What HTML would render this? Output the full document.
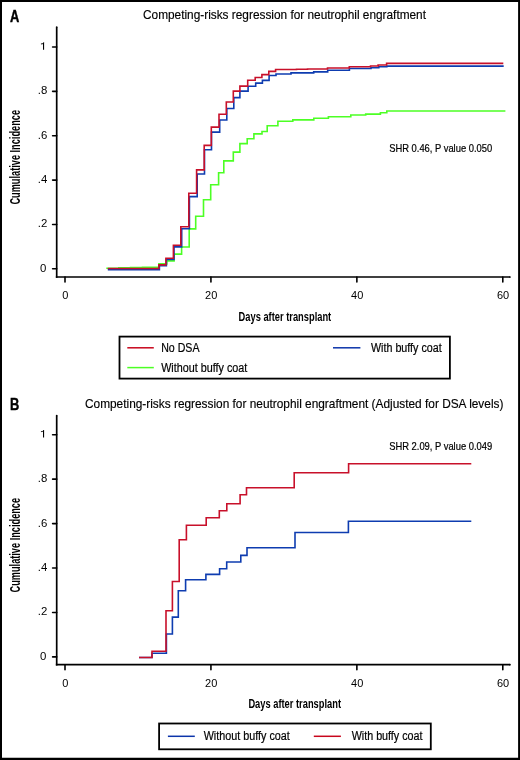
<!DOCTYPE html>
<html><head><meta charset="utf-8"><style>
html,body{margin:0;padding:0;background:#fff;}
svg{display:block;will-change:transform;}
text{font-family:"Liberation Sans",sans-serif;fill:#000;}
.lt{font-size:15.7px;font-weight:bold;}
.ti{font-size:12.4px;stroke:#000;stroke-width:0.15px;}
.tk{font-size:10.2px;}
.yl{font-size:14px;font-weight:bold;}
.xl{font-size:12.8px;font-weight:bold;}
.an{font-size:10.1px;stroke:#000;stroke-width:0.2px;}
.lg{font-size:12px;stroke:#000;stroke-width:0.2px;}
</style></head><body>
<svg width="520" height="760" viewBox="0 0 520 760">
<rect x="0" y="0" width="520" height="760" fill="#fff"/>
<text transform="translate(9.9,21.8) scale(0.82,1)" class="lt" stroke="#000" stroke-width="0.4">A</text>
<text x="143" y="19.45" class="ti" textLength="283" lengthAdjust="spacingAndGlyphs">Competing-risks regression for neutrophil engraftment</text>
<path d="M56.7,27.1V277.85" stroke="#000" stroke-width="1.7" fill="none"/>
<circle cx="56.7" cy="27.1" r="0.85" fill="#000"/>
<path d="M55.85,277.0H510.0" stroke="#000" stroke-width="1.7" fill="none"/>
<circle cx="510.0" cy="277.0" r="0.85" fill="#000"/>
<path d="M52.6,268.80H56.7" stroke="#000" stroke-width="1.6" stroke-linecap="round"/>
<text transform="translate(46.3,271.80) scale(1.12,1.08)" class="tk" text-anchor="end">0</text>
<path d="M52.6,224.44H56.7" stroke="#000" stroke-width="1.6" stroke-linecap="round"/>
<text transform="translate(47.3,227.44) scale(1.12,1.0)" class="tk" text-anchor="end">.2</text>
<path d="M52.6,180.08H56.7" stroke="#000" stroke-width="1.6" stroke-linecap="round"/>
<text transform="translate(47.3,183.08) scale(1.12,1.0)" class="tk" text-anchor="end">.4</text>
<path d="M52.6,135.72H56.7" stroke="#000" stroke-width="1.6" stroke-linecap="round"/>
<text transform="translate(47.3,138.72) scale(1.12,1.0)" class="tk" text-anchor="end">.6</text>
<path d="M52.6,91.36H56.7" stroke="#000" stroke-width="1.6" stroke-linecap="round"/>
<text transform="translate(47.3,94.36) scale(1.12,1.0)" class="tk" text-anchor="end">.8</text>
<path d="M52.6,47.00H56.7" stroke="#000" stroke-width="1.6" stroke-linecap="round"/>
<path d="M43.55,49.80V42.50" stroke="#000" stroke-width="1.1" fill="none"/><path d="M43.55,42.80C42.95,43.80 42.15,43.90 40.95,43.90" stroke="#000" stroke-width="1.0" fill="none"/>
<path d="M65.00,277.0V282.0" stroke="#000" stroke-width="1.6" stroke-linecap="round"/>
<text transform="translate(65.30,299.30) scale(1.08,1.05)" class="tk" text-anchor="middle">0</text>
<path d="M210.93,277.0V282.0" stroke="#000" stroke-width="1.6" stroke-linecap="round"/>
<text transform="translate(211.23,299.30) scale(1.08,1.05)" class="tk" text-anchor="middle">20</text>
<path d="M356.87,277.0V282.0" stroke="#000" stroke-width="1.6" stroke-linecap="round"/>
<text transform="translate(357.17,299.30) scale(1.08,1.05)" class="tk" text-anchor="middle">40</text>
<path d="M502.80,277.0V282.0" stroke="#000" stroke-width="1.6" stroke-linecap="round"/>
<text transform="translate(503.10,299.30) scale(1.08,1.05)" class="tk" text-anchor="middle">60</text>
<text transform="translate(19.9,157.3) rotate(-90)" x="0" y="0" class="yl" text-anchor="middle" textLength="94.6" lengthAdjust="spacingAndGlyphs">Cumulative Incidence</text>
<text x="238.6" y="320.6" class="xl" textLength="92.6" lengthAdjust="spacingAndGlyphs">Days after transplant</text>
<text x="389.2" y="152.3" class="an" textLength="103" lengthAdjust="spacingAndGlyphs">SHR 0.46, P value 0.050</text>
<path d="M106.3,268.2H118.8V267.9H130.6V267.6H142.5V267.2H158.9V263.9H166.8V260.9H174.1V254.1H181.6V247.0H189.2V228.9H195.7V216.3H203.5V199.8H210.7V184.7H218.6V172.8H223.8V160.9H233.3V152.1H239.9V143.6H247.2V138.7H253.9V133.9H262.0V131.5H267.2V125.8H277.9V121.3H292.8V119.9H313.8V118.2H328.4V116.7H350.8V115.0H365.7V114.1H380.4V112.8H386.8V111.0H505.4" stroke="#4cff24" stroke-width="1.6" fill="none"/>
<path d="M107.8,269.8H159.4V265.7H166.4V259.4H174.0V246.9H181.7V228.8H189.4V196.6H197.2V174.0H204.5V149.7H211.5V132.1H219.7V120.0H226.8V108.5H233.8V97.6H239.9V91.1H248.1V86.2H255.7V83.1H262.4V80.4H269.1V75.5H276.0V74.0H291.0V72.9H313.7V71.9H327.7V70.3H349.4V68.5H371.0V67.7H378.8V66.8H386.8V66.1H503.7" stroke="#0e3cb0" stroke-width="1.6" fill="none"/>
<path d="M107.8,268.5H158.9V264.9H165.9V258.2H173.4V245.2H180.8V226.8H188.8V193.2H196.6V169.9H204.2V145.4H211.3V127.1H219.0V114.2H226.3V102.0H233.3V91.1H239.9V86.1H247.7V80.3H255.2V77.5H261.9V74.6H268.8V71.4H275.6V69.5H296.5V69.3H307.5V69.0H327.5V67.95H349.3V66.8H370.5V66.0H378.1V65.0H386.6V63.4H503.3" stroke="#c8102a" stroke-width="1.6" fill="none"/>
<rect x="119.5" y="336.6" width="330.4" height="42" fill="none" stroke="#000" stroke-width="1.8"/>
<path d="M127.3,347.8H153.8" stroke="#c8061c" stroke-width="1.5"/>
<path d="M127.3,367.6H153.8" stroke="#4cff24" stroke-width="1.5"/>
<path d="M333,347.8H360.4" stroke="#0c34aa" stroke-width="1.5"/>
<text x="161.2" y="352" class="lg" textLength="38.3" lengthAdjust="spacingAndGlyphs">No DSA</text>
<text x="161.2" y="371.8" class="lg" textLength="86.1" lengthAdjust="spacingAndGlyphs">Without buffy coat</text>
<text x="371" y="351.8" class="lg" textLength="70.7" lengthAdjust="spacingAndGlyphs">With buffy coat</text>
<text transform="translate(9.9,410.3) scale(0.82,1)" class="lt" stroke="#000" stroke-width="0.4">B</text>
<text x="85" y="407.7" class="ti" textLength="418.4" lengthAdjust="spacingAndGlyphs">Competing-risks regression for neutrophil engraftment (Adjusted for DSA levels)</text>
<path d="M56.7,415.6V665.5500000000001" stroke="#000" stroke-width="1.7" fill="none"/>
<circle cx="56.7" cy="415.6" r="0.85" fill="#000"/>
<path d="M55.85,664.7H510.0" stroke="#000" stroke-width="1.7" fill="none"/>
<circle cx="510.0" cy="664.7" r="0.85" fill="#000"/>
<path d="M52.6,656.90H56.7" stroke="#000" stroke-width="1.6" stroke-linecap="round"/>
<text transform="translate(46.3,659.90) scale(1.12,1.08)" class="tk" text-anchor="end">0</text>
<path d="M52.6,612.46H56.7" stroke="#000" stroke-width="1.6" stroke-linecap="round"/>
<text transform="translate(47.3,615.46) scale(1.12,1.0)" class="tk" text-anchor="end">.2</text>
<path d="M52.6,568.02H56.7" stroke="#000" stroke-width="1.6" stroke-linecap="round"/>
<text transform="translate(47.3,571.02) scale(1.12,1.0)" class="tk" text-anchor="end">.4</text>
<path d="M52.6,523.58H56.7" stroke="#000" stroke-width="1.6" stroke-linecap="round"/>
<text transform="translate(47.3,526.58) scale(1.12,1.0)" class="tk" text-anchor="end">.6</text>
<path d="M52.6,479.14H56.7" stroke="#000" stroke-width="1.6" stroke-linecap="round"/>
<text transform="translate(47.3,482.14) scale(1.12,1.0)" class="tk" text-anchor="end">.8</text>
<path d="M52.6,434.70H56.7" stroke="#000" stroke-width="1.6" stroke-linecap="round"/>
<path d="M43.55,437.50V430.20" stroke="#000" stroke-width="1.1" fill="none"/><path d="M43.55,430.50C42.95,431.50 42.15,431.60 40.95,431.60" stroke="#000" stroke-width="1.0" fill="none"/>
<path d="M65.00,664.7V669.7" stroke="#000" stroke-width="1.6" stroke-linecap="round"/>
<text transform="translate(65.30,687.00) scale(1.08,1.05)" class="tk" text-anchor="middle">0</text>
<path d="M210.93,664.7V669.7" stroke="#000" stroke-width="1.6" stroke-linecap="round"/>
<text transform="translate(211.23,687.00) scale(1.08,1.05)" class="tk" text-anchor="middle">20</text>
<path d="M356.87,664.7V669.7" stroke="#000" stroke-width="1.6" stroke-linecap="round"/>
<text transform="translate(357.17,687.00) scale(1.08,1.05)" class="tk" text-anchor="middle">40</text>
<path d="M502.80,664.7V669.7" stroke="#000" stroke-width="1.6" stroke-linecap="round"/>
<text transform="translate(503.10,687.00) scale(1.08,1.05)" class="tk" text-anchor="middle">60</text>
<text transform="translate(19.9,545.2) rotate(-90)" x="0" y="0" class="yl" text-anchor="middle" textLength="94.6" lengthAdjust="spacingAndGlyphs">Cumulative Incidence</text>
<text x="248.4" y="708.3" class="xl" textLength="92.6" lengthAdjust="spacingAndGlyphs">Days after transplant</text>
<text x="389.2" y="450.3" class="an" textLength="103" lengthAdjust="spacingAndGlyphs">SHR 2.09, P value 0.049</text>
<path d="M139.0,657.5H152.0V653.3H166.4V634.0H172.4V617.1H178.3V590.7H185.6V579.7H205.9V574.4H219.6V568.8H226.7V562.0H240.8V555.4H247.0V547.7H295.0V532.5H348.4V521.2H471.3" stroke="#0e3cb0" stroke-width="1.6" fill="none"/>
<path d="M139.0,657.5H152.0V651.2H166.0V610.7H172.4V581.5H179.2V539.7H186.4V525.3H206.2V517.7H219.3V510.7H226.8V503.8H240.1V494.8H246.5V487.7H294.2V472.8H348.6V463.8H471.3" stroke="#c8102a" stroke-width="1.6" fill="none"/>
<rect x="159.1" y="723.5" width="271.7" height="25.8" fill="none" stroke="#000" stroke-width="1.8"/>
<path d="M167.9,736.3H194.8" stroke="#0c34aa" stroke-width="1.5"/>
<path d="M313.8,736.3H340.9" stroke="#c8061c" stroke-width="1.5"/>
<text x="203.7" y="740.3" class="lg" textLength="86.1" lengthAdjust="spacingAndGlyphs">Without buffy coat</text>
<text x="351.7" y="740.3" class="lg" textLength="70.8" lengthAdjust="spacingAndGlyphs">With buffy coat</text>
<path d="M0,0H520V760H0Z M2.0,2.1V757.7H518.1V2.1Z" fill="#000" fill-rule="evenodd"/>
</svg>
</body></html>
